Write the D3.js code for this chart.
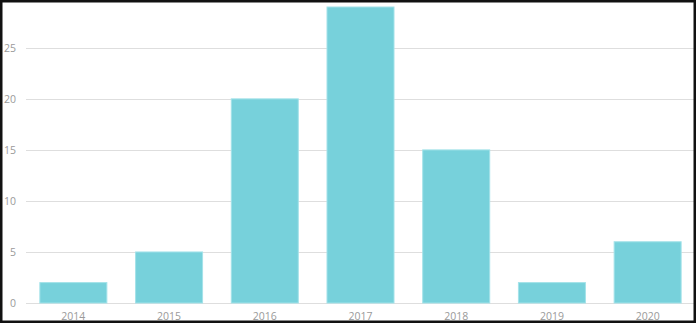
<!DOCTYPE html>
<html>
<head>
<meta charset="utf-8">
<script src="https://cdn.jsdelivr.net/npm/d3@7"></script>
<style>
  body { margin: 0; background: #fff; }
  svg { display: block; }
</style>
</head>
<body>
<div id="chart"></div>
<script>
const years = ["2014", "2015", "2016", "2017", "2018", "2019", "2020"];
const counts = [2, 5, 20, 29, 15, 2, 6];
const yTicks = [0, 5, 10, 15, 20, 25];

const width = 697;
const height = 324;
const barColour = "#77d1db";
const gridColour = "#dedede";
const labelColour = "#9a9a9a";
const font = "'Open Sans', sans-serif";

const svg = d3.select("#chart")
    .append("svg")
    .attr("width", width)
    .attr("height", height);

// Scales - bands span about 25.5..695.5, 0 sits at y=303
const x = d3.scaleBand()
    .domain(years)
    .range([25.5, 695.5])
    .paddingInner(0.3)
    .paddingOuter(0.15);

const y = d3.scaleLinear()
    .domain([0, 29])
    .range([303, 7]);

// Horizontal grid lines
svg.append("g")
    .selectAll("line")
    .data(yTicks)
    .enter()
    .append("line")
    .attr("x1", 26)
    .attr("x2", 695)
    .attr("y1", d => Math.round(y(d)) + 0.5)
    .attr("y2", d => Math.round(y(d)) + 0.5)
    .attr("stroke", gridColour)
    .attr("stroke-width", 1);

// Y tick labels
svg.append("g")
    .selectAll("text")
    .data(yTicks)
    .enter()
    .append("text")
    .attr("x", 16)
    .attr("y", d => y(d))
    .attr("dy", "0.35em")
    .attr("text-anchor", "end")
    .attr("fill", labelColour)
    .attr("font-family", font)
    .attr("font-size", "10.5px")
    .text(d => d);

// Bars
svg.append("g")
    .selectAll("rect")
    .data(counts)
    .enter()
    .append("rect")
    .attr("x", (d, i) => x(years[i]))
    .attr("y", d => y(d))
    .attr("width", x.bandwidth())
    .attr("height", d => y(0) - y(d))
    .attr("fill", barColour)
    .attr("stroke", "#a3e2e9")
    .attr("stroke-width", 1);

// X labels
svg.append("g")
    .selectAll("text")
    .data(years)
    .enter()
    .append("text")
    .attr("x", d => x(d) + x.bandwidth() / 2)
    .attr("y", 316)
    .attr("dy", "0.35em")
    .attr("text-anchor", "middle")
    .attr("fill", labelColour)
    .attr("font-family", font)
    .attr("font-size", "10.5px")
    .text(d => d);

// Frame round the whole picture
svg.append("rect")
    .attr("x", 1.25)
    .attr("y", 1.25)
    .attr("width", width - 2.5 - 1)
    .attr("height", height - 2.5 - 1)
    .attr("fill", "none")
    .attr("stroke", "#111")
    .attr("stroke-width", 2.5);
</script>
</body>
</html>
